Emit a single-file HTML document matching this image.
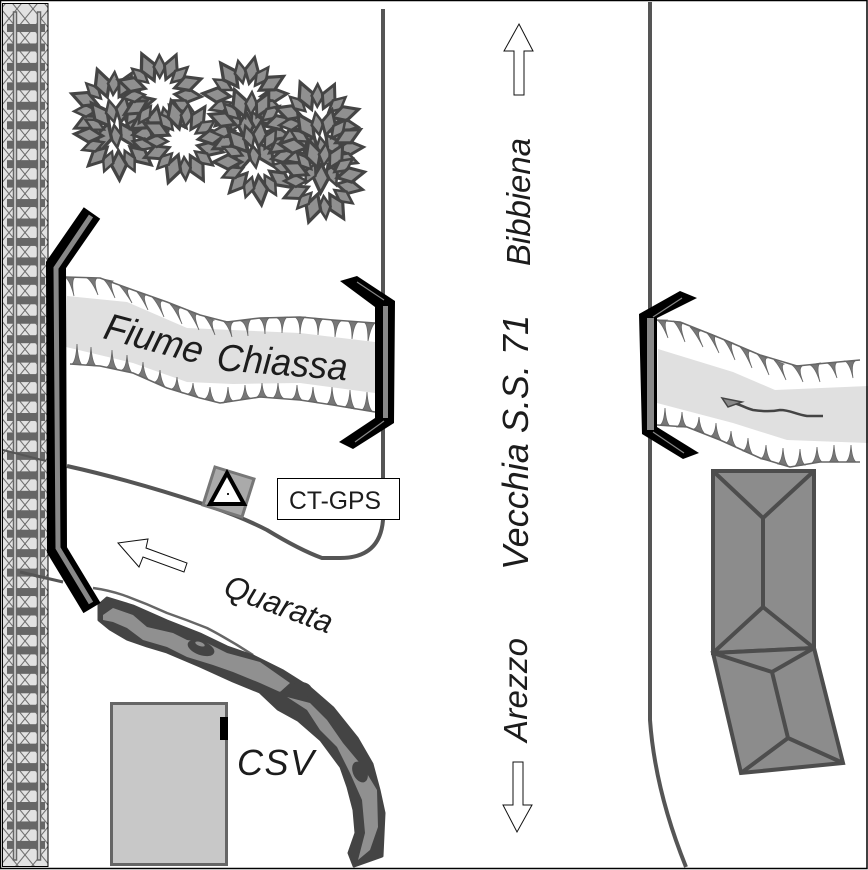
<!DOCTYPE html>
<html>
<head>
<meta charset="utf-8">
<style>
html,body{margin:0;padding:0;background:#fff;width:868px;height:870px;overflow:hidden}
svg{display:block}
text{font-family:"Liberation Sans",sans-serif;fill:#1c1c1c}
.i{font-style:italic}
</style>
</head>
<body>
<svg xmlns="http://www.w3.org/2000/svg" width="868" height="870" viewBox="0 0 868 870">
<defs>
<pattern id="hatch" width="16" height="19.45" patternUnits="userSpaceOnUse" x="1" y="28.3">
<rect width="16" height="19.45" fill="#e2e2e2"/>
<path d="M0 0L16 19.45M16 0L0 19.45" stroke="#666" stroke-width="1" fill="none"/>
</pattern>
<pattern id="tiep" width="48" height="19.45" patternUnits="userSpaceOnUse" x="0" y="24">
<rect x="7" y="0" width="38" height="8" fill="#666"/>
</pattern>
<path id="lf" d="M14 0L2 6L-9 0L2 -6Z"/>
<g id="bush">
<use href="#lf" transform="rotate(0) translate(22 0)"/>
<use href="#lf" transform="rotate(24) translate(21 0) scale(.85)"/>
<use href="#lf" transform="rotate(48) translate(23 0) scale(1.05)"/>
<use href="#lf" transform="rotate(72) translate(21 0) scale(.85)"/>
<use href="#lf" transform="rotate(96) translate(22 0) scale(1.1)"/>
<use href="#lf" transform="rotate(120) translate(21 0) scale(.8)"/>
<use href="#lf" transform="rotate(144) translate(22 0) scale(1)"/>
<use href="#lf" transform="rotate(168) translate(21 0) scale(.85)"/>
<use href="#lf" transform="rotate(192) translate(23 0) scale(1.05)"/>
<use href="#lf" transform="rotate(216) translate(21 0) scale(.8)"/>
<use href="#lf" transform="rotate(240) translate(22 0) scale(1.1)"/>
<use href="#lf" transform="rotate(264) translate(21 0) scale(.85)"/>
<use href="#lf" transform="rotate(288) translate(22 0) scale(1)"/>
<use href="#lf" transform="rotate(312) translate(21 0) scale(.85)"/>
<use href="#lf" transform="rotate(336) translate(23 0) scale(1.05)"/>
</g>
</defs>
<rect x="0" y="0" width="868" height="870" fill="#fff"/>

<!-- railway -->
<rect x="2.500" y="3.500" width="45.500" height="863" fill="url(#hatch)" stroke="#000" stroke-width="1"/>
<rect x="7" y="24" width="38" height="830" fill="url(#tiep)"/>
<g fill="#ddd" stroke="#666" stroke-width="1.500">
<rect x="13.500" y="12" width="3" height="848"/>
<rect x="37.500" y="12" width="3" height="848"/>
</g>

<!-- roads -->
<path d="M383 9V520Q380 558 340 558H322Q300 550 267 530Q240 516 200 503Q130 480 67 466" fill="none" stroke="#555" stroke-width="4"/>
<path d="M3 450L46 461" fill="none" stroke="#555" stroke-width="2"/>
<path d="M650 2V720Q655 790 686 867" fill="none" stroke="#555" stroke-width="4"/>
<path d="M20 572L63 582" fill="none" stroke="#555" stroke-width="3"/>
<path d="M93 588Q108 590 123 595Q145 603 167 613Q187 620 207 628Q230 640 253 655" fill="none" stroke="#666" stroke-width="2.500"/>

<!-- water -->
<path d="M67 296L127 302L187 328L300 333L375 342V393L300 383L233 384L187 382L133 363L66 347Z" fill="#e0e0e0"/>
<path d="M658 349L733 372L775 390L868 386V443L787 440L733 423L657 403Z" fill="#e0e0e0"/>

<!-- banks -->
<g fill="#777" stroke="#666" stroke-width=".8">
<path d="M65 277Q70 280 74 296Q71 280 75 277ZM87 278Q92 281 98 295Q93 281 97 278ZM103 279Q108 283 115 298Q109 283 113 281ZM119 285Q124 290 132 303Q125 290 129 289ZM136 291Q141 296 148 310Q142 296 146 295ZM152 297Q157 302 164 317Q158 302 162 301ZM170 304Q175 309 182 324Q176 309 180 308ZM187 310Q192 315 199 330Q193 315 197 314ZM204 316Q209 321 215 335Q210 321 214 320ZM223 321Q228 325 232 337Q229 325 233 322ZM241 321Q246 323 248 336Q247 323 251 319ZM259 318Q264 321 265 334Q265 321 269 318ZM277 318Q282 320 282 333Q283 320 287 317ZM295 317Q300 320 300 334Q301 320 305 317ZM313 318Q318 321 318 335Q319 321 323 319ZM331 320Q335 323 335 337Q337 323 341 321ZM348 321Q352 324 352 339Q354 324 358 322ZM365 323Q368 326 368 341Q371 326 375 323Z"/>
<path d="M72 364Q76 361 77 344Q78 361 82 365ZM86 365Q90 362 91 347Q92 362 96 366ZM107 367Q111 365 112 350Q113 365 117 369ZM122 370Q126 368 127 355Q128 368 132 373ZM138 375Q142 373 143 362Q144 374 148 379ZM155 382Q159 380 160 370Q161 381 165 387ZM172 389Q176 387 177 377Q178 388 182 393ZM188 394Q192 392 193 383Q194 393 198 397ZM205 399Q209 396 210 387Q211 397 215 402ZM223 403Q227 399 228 387Q229 399 233 401ZM240 400Q244 396 245 385Q246 396 250 398ZM257 397Q261 394 262 383Q263 394 267 397ZM273 398Q277 395 278 383Q279 395 283 398ZM292 399Q296 397 297 385Q298 397 302 400ZM308 401Q312 399 313 387Q314 399 318 403ZM327 404Q331 401 332 387Q333 401 337 405ZM345 407Q349 404 350 390Q351 404 355 409ZM362 410Q366 407 367 392Q368 407 372 411Z"/>
<path d="M657 320Q662 323 668 338Q663 323 667 320ZM673 321Q678 325 685 342Q679 325 683 323ZM690 327Q695 332 703 347Q696 332 700 331ZM706 332Q711 337 719 353Q712 337 716 336ZM723 339Q728 344 735 360Q729 344 733 343ZM740 347Q745 352 752 368Q746 352 750 351ZM757 354Q762 359 769 375Q763 359 767 358ZM774 360Q779 365 786 380Q780 365 784 364ZM792 365Q797 369 803 382Q798 369 802 366ZM810 365Q815 367 820 382Q816 367 820 363ZM827 363Q832 365 837 378Q833 365 837 362ZM845 361Q850 364 853 378Q851 364 855 361Z"/>
<path d="M660 425Q664 423 665 408Q666 423 670 426ZM677 427Q681 424 682 412Q683 424 687 427ZM694 429Q698 427 699 417Q700 428 704 433ZM711 436Q715 434 716 423Q717 435 721 440ZM726 443Q730 441 731 431Q732 442 736 447ZM743 451Q747 449 748 438Q749 450 753 455ZM761 459Q765 456 766 445Q767 457 771 461ZM778 464Q782 461 783 448Q784 461 788 466ZM795 466Q799 462 800 449Q801 462 805 465ZM812 463Q816 459 817 447Q818 459 822 462ZM829 462Q833 459 834 445Q835 459 839 462ZM846 462Q850 459 851 445Q852 459 856 462Z"/>
</g>
<g fill="none" stroke="#666" stroke-width="1.600" stroke-linejoin="round">
<path d="M66 277L100 278L133 290L167 302L200 315L227 322L260 318L300 317L333 320L375 323"/>
<path d="M70 364L100 366L133 373L167 388L200 398L220 403L260 397L300 400L333 405L375 412"/>
<path d="M657 320L680 322L720 338L760 355L797 366L827 363L860 360"/>
<path d="M657 425L687 427L720 440L760 458L790 467L820 462L860 462"/>
</g>

<!-- trees -->
<g stroke="#444" stroke-width="2.600" fill="#909090">
<use href="#bush" transform="translate(112 110) rotate(10) scale(1.15)"/>
<use href="#bush" transform="translate(118 137) rotate(-8) scale(1.15)"/>
<use href="#bush" transform="translate(160 93) rotate(5) scale(1.15)"/>
<use href="#bush" transform="translate(183 142) rotate(14) scale(1.15)"/>
<use href="#bush" transform="translate(246 98) rotate(-6) scale(1.15)"/>
<use href="#bush" transform="translate(250 130) rotate(9) scale(1.15)"/>
<use href="#bush" transform="translate(257 162) rotate(-12) scale(1.15)"/>
<use href="#bush" transform="translate(317 122) rotate(7) scale(1.15)"/>
<use href="#bush" transform="translate(322 150) rotate(-4) scale(1.15)"/>
<use href="#bush" transform="translate(322 181) rotate(12) scale(1.15)"/>
</g>

<!-- Quarata stream -->
<path d="M107 598L133 606L167 621L200 634L227 647L253 656L283 671L310 688L333 708L357 738L372 764L379 790L384 813L382 856L354 866L349 853L356 833L354 810L348 787L341 767L321 740L298 720L278 709L260 692L233 681L200 666L167 652L147 646L127 639L110 629L99 620L99 605Z" fill="#444" stroke="#444" stroke-width="3" stroke-linejoin="round"/>
<path d="M103 615L113 608L133 615L147 627L173 633L187 640L207 643L227 653L260 662L290 683L280 692L260 683L233 672L213 665L187 657L167 647L143 640L127 628L113 622L103 620Z" fill="#909090"/>
<path d="M287 697L310 703L327 720L343 743L363 767L377 790L378 827L370 850L358 860L365 833L362 800L350 773L337 747L320 730L307 710Z" fill="#909090"/>
<ellipse cx="201" cy="648" rx="14" ry="7" fill="#444" transform="rotate(20 201 648)"/>
<ellipse cx="200" cy="644" rx="5" ry="2" fill="#909090" transform="rotate(20 200 644)"/>
<ellipse cx="301" cy="690" rx="11" ry="8" fill="#444"/>
<ellipse cx="360" cy="772" rx="7" ry="11" fill="#444" transform="rotate(-25 360 772)"/>
<path d="M279 694L297 689" stroke="#444" stroke-width="4"/>

<!-- bridges -->
<path d="M92 213L56 265L57 550L92 608" fill="none" stroke="#000" stroke-width="20" stroke-miterlimit="10"/>
<path d="M91 216L56 268L58 548L91 603" fill="none" stroke="#888" stroke-width="5" stroke-miterlimit="10"/>
<path d="M340 281L357 276L395 301L394 423L353 449L339 442L375 418L375 307Z" fill="#000"/>
<path d="M383 306H388V418H383Z" fill="#888"/>
<path d="M357 282L384 300M384 421L355 442" stroke="#888" stroke-width="1.200" fill="none"/>
<path d="M680 291L697 298L657 318V427L699 453L683 459L642 434L639 314Z" fill="#000"/>
<path d="M647 318H654V430H647Z" fill="#888"/>
<path d="M682 298L653 317M653 432L684 453" stroke="#888" stroke-width="1.200" fill="none"/>

<!-- river arrow -->
<path d="M823 416L807 416C795 414 790 410 780 410C770 412 760 411 753 410C745 408 740 404 733 403" fill="none" stroke="#444" stroke-width="2.500"/>
<path d="M722 398L742 402L728 407Z" fill="#888" stroke="#444" stroke-width="1.500"/>

<!-- buildings -->
<rect x="111.500" y="703.500" width="115" height="161" fill="#c8c8c8" stroke="#666" stroke-width="3"/>
<rect x="220" y="717" width="8" height="23" fill="#000"/>
<g fill="#8c8c8c" stroke="#4d4d4d" stroke-width="4" stroke-linejoin="miter">
<path d="M713 471H814V648L713 653Z"/>
<path d="M713 653L814 648L843 763L741 773Z"/>
<path d="M713 471L763 518V607L713 653M814 471L763 518M763 607L814 648" fill="none"/>
<path d="M713 653L772 672L814 648M772 672L788 738L741 773M788 738L843 763" fill="none"/>
</g>

<!-- GPS marker -->
<path d="M215 467L254 479L242 517L203 505Z" fill="#aaa" stroke="#777" stroke-width="3"/>
<path d="M227 473L244 504H210Z" fill="#fff" stroke="#000" stroke-width="4"/>
<rect x="227" y="493" width="2" height="2" fill="#222"/>
<rect x="277.500" y="478.500" width="122" height="41" fill="#fff" stroke="#000" stroke-width="1"/>
<text x="289" y="509" font-size="25" textLength="92" lengthAdjust="spacingAndGlyphs">CT-GPS</text>

<!-- arrows -->
<g fill="#fff" stroke="#111" stroke-width="1">
<path d="M118 543L148 539L146 548L187 563L184 572L143 557L139 567Z"/>
<path d="M519 24L533 51H524V95H514V51H504Z"/>
<path d="M513 762H523V805H532L517 832L503 805H513Z"/>
</g>

<!-- labels -->
<text class="i" font-size="38" transform="translate(102 338) rotate(15)" textLength="101" lengthAdjust="spacingAndGlyphs">Fiume</text>
<text class="i" font-size="38" transform="translate(216 370) rotate(4.500)" textLength="131" lengthAdjust="spacingAndGlyphs">Chiassa</text>
<text class="i" font-size="32" transform="translate(222 595) rotate(20)" textLength="113" lengthAdjust="spacingAndGlyphs">Quarata</text>
<text class="i" font-size="36" x="237" y="775" letter-spacing="1.500">CSV</text>
<text class="i" font-size="33" transform="translate(530 266) rotate(-90)" textLength="128">Bibbiena</text>
<text class="i" font-size="36" transform="translate(528 570) rotate(-90)" textLength="255">Vecchia S.S. 71</text>
<text class="i" font-size="33" transform="translate(527 742) rotate(-90)" textLength="104">Arezzo</text>

<!-- frame -->
<rect x=".5" y=".5" width="866.500" height="868" fill="none" stroke="#000" stroke-width="1.500"/>
</svg>
</body>
</html>
